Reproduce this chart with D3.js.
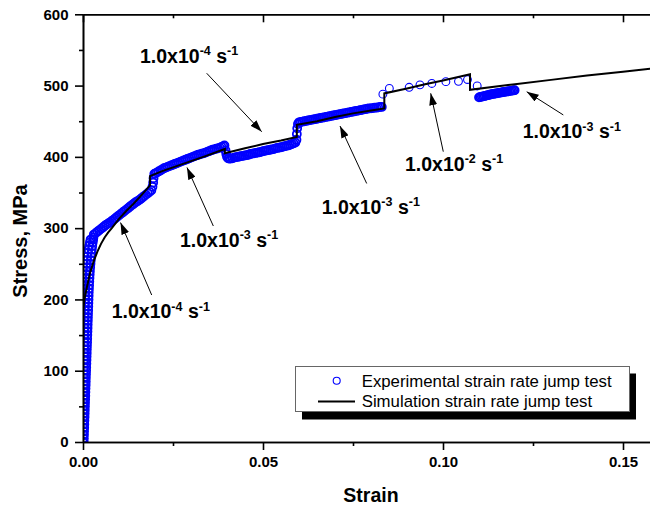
<!DOCTYPE html>
<html><head><meta charset="utf-8">
<script src="https://cdn.jsdelivr.net/npm/d3@7"></script>
<style>body{margin:0;background:#fff}svg{display:block}</style>
</head><body>
<svg id="chart" width="650" height="508"></svg>
<script>
// ---------- data ----------
const xMajorTicks = [0, 0.05, 0.10, 0.15];
const xMinorTicks = [0.025, 0.075, 0.125];
const yMajorTicks = [0, 100, 200, 300, 400, 500, 600];
const yMinorTicks = [50, 150, 250, 350, 450, 550];
const seriesNames = ["Experimental strain rate jump test", "Simulation strain rate jump test"];
const axisTitles = ["Strain", "Stress, MPa"];

// experimental (strain, stress MPa)
const expElasticA = [[0.00005,0],[0.00006,5],[0.00008,10],[0.00009,15],[0.0001,20],[0.00011,25],[0.00013,30],[0.00014,35],[0.00015,40],[0.00016,45],[0.00018,50],[0.00019,55],[0.0002,60],[0.00021,65],[0.00023,70],[0.00024,75],[0.00025,80],[0.00026,85],[0.00028,90],[0.00029,95],[0.0003,100],[0.00031,105],[0.00033,110],[0.00034,115],[0.00035,120],[0.00036,125],[0.00038,130],[0.00039,135],[0.0004,140],[0.00041,145],[0.00043,150],[0.00044,155],[0.00045,160],[0.00046,165],[0.00048,170],[0.00049,175],[0.0005,180],[0.00052,185],[0.00055,190],[0.00057,195],[0.0006,200],[0.00062,205],[0.00065,210],[0.00067,215],[0.0007,220],[0.00075,225],[0.0008,230],[0.00085,235],[0.0009,240],[0.00097,245],[0.00103,250],[0.0011,255],[0.0012,260],[0.0013,265],[0.0015,270],[0.0017,275],[0.0019,280],[0.0021,284]];
const expElasticB = [[0.0002,0],[0.00023,5],[0.00027,10],[0.0003,15],[0.00034,20],[0.00037,25],[0.0004,30],[0.00044,35],[0.00047,40],[0.0005,45],[0.00054,50],[0.00057,55],[0.0006,60],[0.00064,65],[0.00067,70],[0.0007,75],[0.00074,80],[0.00077,85],[0.0008,90],[0.00084,95],[0.00087,100],[0.0009,105],[0.00094,110],[0.00097,115],[0.001,120],[0.00104,125],[0.00107,130],[0.0011,135],[0.00114,140],[0.00117,145],[0.0012,150],[0.00124,155],[0.00127,160],[0.0013,165],[0.00134,170],[0.00137,175],[0.0014,180],[0.00144,185],[0.00147,190],[0.0015,195],[0.00154,200],[0.00157,205],[0.0016,210],[0.00165,215],[0.0017,220],[0.00175,225],[0.0018,230],[0.00186,235],[0.00192,240],[0.002,245],[0.00208,250],[0.00216,255],[0.00225,260],[0.00235,265],[0.00245,270],[0.00257,275],[0.0027,280],[0.00283,284],[0.0029,287]];
const expRate1 = [[0.003,291],[0.0035,293],[0.004,295],[0.0045,297],[0.005,299],[0.0055,301],[0.006,303],[0.0065,305],[0.007,306.5],[0.0075,308],[0.008,310],[0.0085,312],[0.009,314],[0.0095,316],[0.010,318],[0.0105,320],[0.011,322],[0.0115,324],[0.012,326],[0.0125,328],[0.013,330],[0.0135,332],[0.014,334],[0.0145,336],[0.015,337.5],[0.0155,339],[0.016,341],[0.0165,343],[0.017,345],[0.0175,347],[0.018,349],[0.0185,351],[0.019,353],[0.0193,358],[0.0195,364],[0.0196,370]];
const expRate2 = [[0.0198,376],[0.020,376.5],[0.0205,378],[0.021,379.5],[0.0215,381],[0.022,382.5],[0.0225,384],[0.023,385],[0.0235,386],[0.024,387],[0.0245,388],[0.025,389],[0.0255,390],[0.026,391],[0.0265,392],[0.027,393],[0.0275,394],[0.028,395],[0.0285,396],[0.029,397],[0.0295,398],[0.030,399],[0.0305,400],[0.031,401],[0.0315,402],[0.032,403],[0.0325,403.5],[0.033,404.5],[0.0335,405],[0.034,406],[0.0345,407],[0.035,408],[0.0355,409],[0.036,410],[0.0365,410.5],[0.037,411.5],[0.0375,412],[0.038,413],[0.0385,414],[0.039,415],[0.0393,416]];
const expRate3 = [[0.0396,409],[0.0398,404],[0.040,400],[0.0403,398],[0.0406,397.5],[0.041,397.5],[0.0415,398],[0.042,399],[0.0425,399.5],[0.043,400],[0.0435,400.5],[0.044,401],[0.0445,401.5],[0.045,402],[0.0455,402.5],[0.046,403],[0.0465,404],[0.047,404.5],[0.0475,405],[0.048,405.5],[0.0485,406],[0.049,406.5],[0.0495,407],[0.050,408],[0.0505,408.5],[0.051,409],[0.0515,409.5],[0.052,410],[0.0525,410.5],[0.053,411],[0.0535,412],[0.054,412.5],[0.0545,413],[0.055,413.5],[0.0555,414],[0.056,415],[0.0565,415.5],[0.057,416],[0.0575,417],[0.058,418],[0.0585,419],[0.059,420],[0.0593,424],[0.0594,432],[0.0595,440]];
const expRate4 = [[0.0597,446],[0.060,448.5],[0.0605,449],[0.061,449.5],[0.0615,450],[0.062,450.5],[0.0625,451],[0.063,451.5],[0.0635,452],[0.064,452.5],[0.0645,453],[0.065,453.5],[0.0655,454],[0.066,454.5],[0.0665,455],[0.067,455.5],[0.0675,456],[0.068,456.5],[0.0685,457],[0.069,457.5],[0.0695,458],[0.070,458.5],[0.0705,459],[0.071,459.5],[0.0715,460],[0.072,460.5],[0.0725,461],[0.073,461.5],[0.0735,462],[0.074,462.5],[0.0745,463],[0.075,463.5],[0.0755,464],[0.076,464.5],[0.0765,465],[0.077,465.5],[0.0775,466],[0.078,466.5],[0.0785,467],[0.079,467.5],[0.0795,468],[0.080,468],[0.0805,468.5],[0.081,469],[0.0815,469],[0.082,469.5],[0.0825,470],[0.083,470]];
const expRate5 = [[0.0833,488],[0.0851,496],[0.0906,497.6],[0.0936,501],[0.0969,503],[0.1008,505.5],[0.1043,506],[0.1068,508.5],[0.1095,499.5]];
const expRate6 = [[0.1100,483.5],[0.1104,484],[0.1108,484.5],[0.1112,485],[0.1116,485.5],[0.1120,486],[0.1124,486.5],[0.1128,487],[0.1132,487.5],[0.1136,488],[0.1140,488.3],[0.1144,488.7],[0.1148,489],[0.1152,489.4],[0.1156,489.8],[0.1160,490.2],[0.1164,490.6],[0.1168,491],[0.1172,491.3],[0.1176,491.6],[0.1180,492],[0.1184,492.3],[0.1188,492.6],[0.1192,492.9],[0.1196,493.2],[0.1199,493.5]];

// simulation (strain, stress MPa)
const simCurve = [[0,185],[0.0005,203],[0.001,215],[0.0015,227],[0.002,238],[0.003,254],[0.004,267],[0.005,278],[0.006,287],[0.007,294],[0.008,300],[0.010,313],[0.012,324],[0.014,334],[0.016,345],[0.0186,360],
  [0.0186,373],[0.022,380],[0.026,387],[0.030,394],[0.034,401],[0.0394,411],
  [0.0394,405],[0.045,412],[0.050,418],[0.055,423],[0.0594,428],
  [0.0594,445],[0.065,450],[0.070,456],[0.075,461],[0.080,465],[0.0837,468],
  [0.0837,489],[0.090,496],[0.095,502],[0.100,507],[0.1075,516],
  [0.1075,494],[0.120,502],[0.130,508],[0.140,514],[0.150,519.5],[0.160,525]];

// rate annotations: exponent of the strain rate
const rateExponents = ["-4","-3","-4","-3","-2","-3"];
// label anchor, arrow tail, arrow tip (strain, stress)
const annotations = [
  {label:[0.01583,532.3], tail:[0.03436,517.3], tip:[0.04964,435.3]},
  {label:[0.02694,274.0], tail:[0.0362,303.0],  tip:[0.02889,385.1]},
  {label:[0.00797,173.5], tail:[0.01908,206.2], tip:[0.01042,307.9]},
  {label:[0.06631,319.9], tail:[0.0788,362.7],  tip:[0.07139,443.3]},
  {label:[0.08944,380.2], tail:[0.10008,407.3], tip:[0.09658,489.2]},
  {label:[0.12214,426.1], tail:[0.13342,458.8], tip:[0.12325,491.4]}
];

// ---------- drawing ----------
const L = 83, T = 14.3, B = 442, R = 659;
const FONT = "'Liberation Sans', Arial, Helvetica, sans-serif";
const svg = d3.select("#chart").style("font-family", FONT);
const x = d3.scaleLinear().domain([0, 0.16]).range([L, R]);
const y = d3.scaleLinear().domain([0, 600]).range([B, T]);

const defs = svg.append("defs");
defs.append("clipPath").attr("id","plotclip")
  .append("rect").attr("x", L).attr("y", T).attr("width", R - L).attr("height", B - T);
defs.append("marker").attr("id","arrowhead")
  .attr("viewBox","0 0 12 8").attr("refX",12).attr("refY",4)
  .attr("markerWidth",12).attr("markerHeight",8).attr("markerUnits","userSpaceOnUse")
  .attr("orient","auto")
  .append("path").attr("d","M0,0 L12,4 L0,8 Z").attr("fill","#000");

const plot = svg.append("g").attr("clip-path","url(#plotclip)");

// experimental circles (dense bands and sparse high-rate points)
const expDense = [].concat(expElasticA, expElasticB, expRate1, expRate2, expRate3, expRate4, expRate6);
plot.append("g").selectAll("circle").data(expDense).join("circle")
  .attr("cx", d => x(d[0])).attr("cy", d => y(d[1])).attr("r", 4)
  .attr("fill","none").attr("stroke","#0000ff").attr("stroke-width",1.8);
plot.append("g").selectAll("circle").data(expRate5).join("circle")
  .attr("cx", d => x(d[0])).attr("cy", d => y(d[1])).attr("r", 3.9)
  .attr("fill","none").attr("stroke","#0000ff").attr("stroke-width",1.1);

// simulation line
plot.append("path").datum(simCurve)
  .attr("d", d3.line().x(d => x(d[0])).y(d => y(d[1])))
  .attr("fill","none").attr("stroke","#000").attr("stroke-width",2).attr("stroke-linejoin","miter");

// axes
function styleAxis(g) {
  g.selectAll("path.domain").attr("stroke","#000").attr("stroke-width",1.6);
  g.selectAll(".tick line").attr("stroke","#000").attr("stroke-width",1.6);
  g.selectAll("text").attr("font-family",FONT).attr("font-size",15).attr("font-weight","bold").attr("fill","#000");
}
const xb = svg.append("g").attr("transform",`translate(0,${B})`)
  .call(d3.axisBottom(x).tickValues(xMajorTicks).tickSize(8).tickSizeOuter(0).tickPadding(6).tickFormat(d3.format(".2f")));
styleAxis(xb);
const xbm = svg.append("g").attr("transform",`translate(0,${B})`)
  .call(d3.axisBottom(x).tickValues(xMinorTicks).tickSize(4).tickSizeOuter(0).tickFormat(""));
styleAxis(xbm);
const xt = svg.append("g").attr("transform",`translate(0,${T})`)
  .call(d3.axisTop(x).tickValues(xMajorTicks).tickSize(-8).tickSizeOuter(0).tickFormat(""));
styleAxis(xt);
const xtm = svg.append("g").attr("transform",`translate(0,${T})`)
  .call(d3.axisTop(x).tickValues(xMinorTicks).tickSize(-4).tickSizeOuter(0).tickFormat(""));
styleAxis(xtm);
const yl = svg.append("g").attr("transform",`translate(${L},0)`)
  .call(d3.axisLeft(y).tickValues(yMajorTicks).tickSize(8).tickSizeOuter(0).tickPadding(6.5).tickFormat(d3.format("d")));
styleAxis(yl);
const ylm = svg.append("g").attr("transform",`translate(${L},0)`)
  .call(d3.axisLeft(y).tickValues(yMinorTicks).tickSize(4).tickSizeOuter(0).tickFormat(""));
styleAxis(ylm);

// axis titles
svg.append("text").attr("x", 371).attr("y", 502).attr("text-anchor","middle")
  .attr("font-size",19.5).attr("font-weight","bold").text(axisTitles[0]);
svg.append("text").attr("transform","translate(27,241) rotate(-90)").attr("text-anchor","middle")
  .attr("font-size",20).attr("font-weight","bold").text(axisTitles[1]);

// annotations
const ann = svg.append("g");
annotations.forEach((a, i) => {
  ann.append("line")
    .attr("x1", x(a.tail[0])).attr("y1", y(a.tail[1]))
    .attr("x2", x(a.tip[0])).attr("y2", y(a.tip[1]))
    .attr("stroke","#000").attr("stroke-width",1).attr("marker-end","url(#arrowhead)");
  const t = ann.append("text").attr("x", x(a.label[0])).attr("y", y(a.label[1]))
    .attr("font-size",19.5).attr("font-weight","bold").attr("fill","#000");
  t.append("tspan").text("1.0x10");
  t.append("tspan").attr("font-size",12.5).attr("dy",-7.5).text(rateExponents[i]);
  t.append("tspan").attr("dy",7.5).text(" s");
  t.append("tspan").attr("font-size",12.5).attr("dy",-7.5).text("-1");
});

// legend
const lg = svg.append("g");
lg.append("rect").attr("x",302).attr("y",373.5).attr("width",334).attr("height",46).attr("fill","#000");
lg.append("rect").attr("x",295.5).attr("y",366.5).attr("width",334).attr("height",45)
  .attr("fill","#fff").attr("stroke","#666").attr("stroke-width",1);
lg.append("circle").attr("cx",336.7).attr("cy",380.7).attr("r",3.5)
  .attr("fill","none").attr("stroke","#0000ff").attr("stroke-width",1.1);
lg.append("line").attr("x1",318).attr("x2",355).attr("y1",401.5).attr("y2",401.5)
  .attr("stroke","#000").attr("stroke-width",2);
lg.append("text").attr("x",361.7).attr("y",386.5).attr("font-size",16.8).text(seriesNames[0]);
lg.append("text").attr("x",361.7).attr("y",406.5).attr("font-size",16.8).text(seriesNames[1]);
</script>
</body></html>
